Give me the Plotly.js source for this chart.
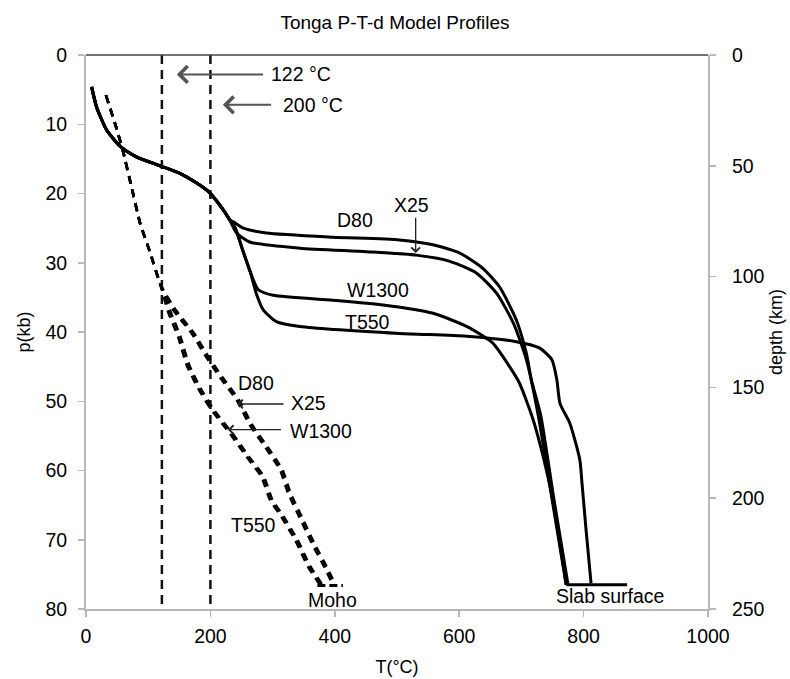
<!DOCTYPE html>
<html>
<head>
<meta charset="utf-8">
<script src="https://cdn.plot.ly/plotly-3.0.1.min.js"></script>
<style>html,body{margin:0;padding:0;background:#fff;}#chart{width:790px;height:679px;}</style>
</head>
<body>
<div id="chart"></div>
<script>
// ---- Data (T in °C, p in kb) ----
// Slab-surface P-T paths (solid)
var D80_T   = [9,17,33,55,81,119,151,178,199,221,231,237,253,290,397,504,558,601,638,665,692,708,716,731,752,775];
var D80_p   = [4.6,7.5,10.8,13.2,14.7,16.0,17.1,18.5,19.9,22.4,23.8,24.1,25.0,25.7,26.3,26.7,27.4,28.6,30.8,33.5,38.3,43.1,46.9,52,64,76.5];
var X25_T   = [9,17,33,55,81,119,151,178,199,221,231,242,263,344,451,531,585,628,660,687,708,727,749,772];
var X25_p   = [4.6,7.5,10.8,13.2,14.7,16.0,17.1,18.5,19.9,22.4,23.8,25.7,27.0,27.9,28.4,28.9,29.8,31.5,34.4,38.7,44.0,52,64,76.5];
var W1300_T = [9,17,33,55,81,119,151,178,199,221,231,240,252,264,277,301,397,478,558,612,654,681,697,719,735,751,772];
var W1300_p = [4.6,7.5,10.8,13.2,14.7,16.0,17.1,18.5,19.9,22.4,23.8,25.0,28.2,31.3,33.9,34.7,35.4,36.1,37.3,39.2,41.6,45.0,47.4,52.7,58.0,64.5,76.5];
var T550_T  = [9,17,33,55,81,119,151,178,199,221,231,240,252,264,274,285,306,344,504,612,692,729,749,757,762,778,794,797,804,812];
var T550_p  = [4.6,7.5,10.8,13.2,14.7,16.0,17.1,18.5,19.9,22.4,23.8,25.0,28.2,31.3,34.5,36.8,38.5,39.2,40.2,40.6,41.4,42.3,44.0,46.9,50.3,53.2,58.5,61.4,68.6,76.3];
var slabBase_T = [772, 870];
var slabBase_p = [76.5, 76.5];

// Moho P-T paths (dashed)
var mD80_T   = [32,47,59,73,87,103,119,144,174,195,219,246,267,292,316,329,348,367,388,401];
var mD80_p   = [5.8,10,13.7,19,24.3,28.5,33,36.8,40.2,43.3,46.5,49.8,53.4,56.6,59.9,63.3,66.9,70.5,74.1,76.5];
var mX25_T   = [32,47,59,73,87,103,119,140,170,191,215,242,263,288,312,325,344,363,384,397];
var mX25_p   = [5.8,10,13.7,19,24.3,28.5,33,36.8,40.2,43.3,46.5,49.8,53.4,56.6,59.9,63.3,66.9,70.5,74.1,76.5];
var mW1300_T = [32,47,59,73,87,103,119,136,152,166,184,206,235,262,286,300,316,340,361,380];
var mW1300_p = [5.8,10,13.7,19,24.3,28.5,33,37.1,40.7,44.8,48.1,51.3,54.6,58.0,60.9,64.3,66.4,70.0,73.9,76.5];
var mT550_T  = [32,47,59,73,87,103,119,132,148,162,180,202,231,258,282,296,312,336,357,376];
var mT550_p  = [5.8,10,13.7,19,24.3,28.5,33,37.1,40.7,44.8,48.1,51.3,54.6,58.0,60.9,64.3,66.4,70.0,73.9,76.5];
var mohoBase_T = [372, 413];
var mohoBase_p = [76.6, 76.6];

// Reference isotherms
var iso122_T = [122, 122];
var iso200_T = [200, 200];
var iso_p    = [0, 80];

// Axis ticks
var xTicks = [0,200,400,600,800,1000];
var pTicks = [0,10,20,30,40,50,60,70,80];
var depthTicks = [0,50,100,150,200,250];

var FONT = 'Liberation Sans, Arial, Helvetica, sans-serif';

function solid(x, y, name) {
  return {x:x, y:y, name:name, mode:'lines', type:'scatter',
    line:{color:'#000', width:3, shape:'spline', smoothing:0.6}, hoverinfo:'skip', showlegend:false};
}
function dashed(x, y, name) {
  return {x:x, y:y, name:name, mode:'lines', type:'scatter',
    line:{color:'#000', width:2.6, dash:'8px,6px', shape:'spline', smoothing:0.5}, hoverinfo:'skip', showlegend:false};
}
function iso(x, y, name) {
  return {x:x, y:y, name:name, mode:'lines', type:'scatter',
    line:{color:'#111', width:2.5, dash:'9px,6px'}, hoverinfo:'skip', showlegend:false};
}

var traces = [
  iso(iso122_T, iso_p, '122 °C'),
  iso(iso200_T, iso_p, '200 °C'),
  solid(D80_T, D80_p, 'D80'),
  solid(X25_T, X25_p, 'X25'),
  solid(W1300_T, W1300_p, 'W1300'),
  solid(T550_T, T550_p, 'T550'),
  {x:slabBase_T, y:slabBase_p, mode:'lines', line:{color:'#000', width:3}, hoverinfo:'skip', showlegend:false},
  dashed(mD80_T, mD80_p, 'D80 Moho'),
  dashed(mX25_T, mX25_p, 'X25 Moho'),
  dashed(mW1300_T, mW1300_p, 'W1300 Moho'),
  dashed(mT550_T, mT550_p, 'T550 Moho'),
  {x:mohoBase_T, y:mohoBase_p, mode:'lines', line:{color:'#000', width:3, dash:'8px,4px'}, hoverinfo:'skip', showlegend:false},
  // anchor for right depth axis
  {x:[0], y:[0], yaxis:'y2', mode:'markers', marker:{opacity:0}, hoverinfo:'skip', showlegend:false}
];

var AF = 19.5;
function lbl(x, y, t) {
  return {x:x, y:y, xref:'x', yref:'y', text:t, showarrow:false, xanchor:'center', yanchor:'middle',
    font:{family:FONT, size:AF, color:'#000'}};
}
function arr(x, y, ax, ay, col, w, s) {
  return {x:x, y:y, ax:ax, ay:ay, xref:'x', yref:'y', axref:'x', ayref:'y', text:'', showarrow:true,
    arrowhead:4, arrowsize:s, arrowwidth:w, arrowcolor:col};
}

var annotations = [
  lbl(346, 2.8, '122 °C'),
  arr(146, 2.8, 287, 2.8, '#555', 2, 1.6),
  lbl(365, 7.2, '200 °C'),
  arr(220, 7.2, 300, 7.2, '#555', 2, 1.6),
  lbl(432, 23.8, 'D80'),
  lbl(524, 21.6, 'X25'),
  arr(530, 28.6, 530, 23.3, '#222', 1.3, 1.3),
  lbl(469, 33.9, 'W1300'),
  lbl(453, 38.6, 'T550'),
  lbl(273, 47.4, 'D80'),
  lbl(358, 50.3, 'X25'),
  arr(243, 50.4, 320, 50.4, '#222', 1.3, 1.3),
  lbl(378, 54.3, 'W1300'),
  arr(228, 54.1, 316, 54.1, '#222', 1.3, 1.3),
  lbl(270, 67.9, 'T550'),
  lbl(397, 78.7, 'Moho'),
  lbl(843, 78.1, 'Slab surface')
];

var axisGray = '#b8b8b8';
var TF = 19.5;
layout = {
  width:790, height:679,
  margin:{l:86, r:82, t:55, b:70, pad:0},
  paper_bgcolor:'#fff', plot_bgcolor:'#fff',
  font:{family:FONT, size:TF, color:'#000'},
  title:{text:'Tonga P-T-d Model Profiles', font:{family:FONT, size:19, color:'#000'},
    x:0.5, xanchor:'center', y:0.967, yanchor:'middle'},
  xaxis:{range:[0,1000], tickvals:xTicks, ticktext:xTicks.map(String), showgrid:false, zeroline:false,
    showline:true, linecolor:axisGray, linewidth:2, ticks:'outside', ticklen:6, tickcolor:axisGray, tickwidth:1.5,
    tickfont:{family:FONT, size:TF, color:'#000'}, ticklabelstandoff:3,
    title:{text:'T(°C)', font:{family:FONT, size:18, color:'#000'}, standoff:14}},
  yaxis:{range:[80,0], tickvals:pTicks, ticktext:pTicks.map(String), showgrid:false, zeroline:false,
    showline:true, linecolor:axisGray, linewidth:2, ticks:'outside', ticklen:6, tickcolor:axisGray, tickwidth:1.5,
    tickfont:{family:FONT, size:TF, color:'#000'}, ticklabelstandoff:7,
    title:{text:'p(kb)', font:{family:FONT, size:18, color:'#000'}, standoff:10}},
  yaxis2:{range:[250,0], overlaying:'y', side:'right', anchor:'x', tickvals:depthTicks, ticktext:depthTicks.map(String),
    showgrid:false, zeroline:false, showline:true, linecolor:axisGray, linewidth:2, ticks:'outside', ticklen:6,
    tickcolor:axisGray, tickwidth:1.5, tickfont:{family:FONT, size:TF, color:'#000'}, ticklabelstandoff:12,
    title:{text:'depth (km)', font:{family:FONT, size:18, color:'#000'}, standoff:6}},
  shapes:[{type:'line', xref:'paper', yref:'paper', x0:0, x1:1, y0:1, y1:1, line:{color:'#444', width:1.5}}],
  annotations:annotations,
  showlegend:false
};

Plotly.newPlot('chart', traces, layout, {displayModeBar:false, staticPlot:true});
</script>
</body>
</html>
